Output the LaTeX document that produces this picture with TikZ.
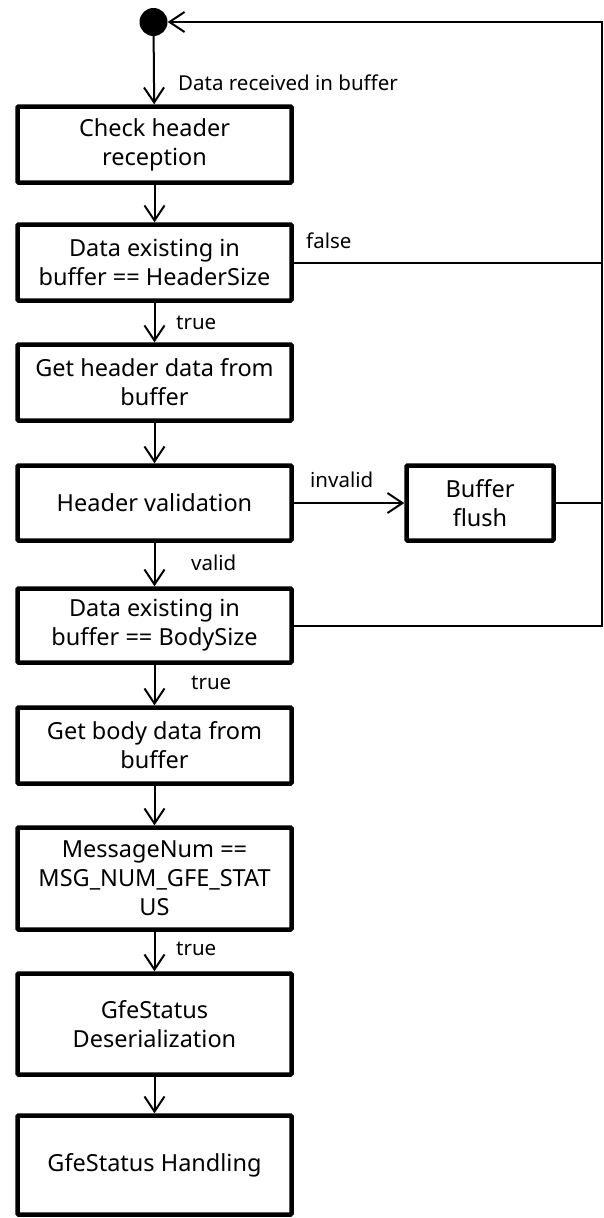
\documentclass[tikz,border=0pt]{standalone}
\usepackage{fontspec}
\setmainfont{Noto Sans}
\usetikzlibrary{arrows.meta}
\begin{document}
\begin{tikzpicture}[x=1pt,y=-1pt,
  box/.style={draw, line width=4.5pt, rectangle, rounded corners=1pt, minimum width=274pt,
    align=center, font=\fontsize{23.5}{29}\selectfont, inner sep=0pt},
  conn/.style={line width=2pt},
  arr/.style={conn, -{Straight Barb[length=15pt,width=20pt,line width=2pt]}},
  lbl/.style={font=\fontsize{20.5}{24}\selectfont, inner sep=0pt, anchor=west}]
\useasboundingbox (0,0) rectangle (603,1218);
\node[circle, fill=black, minimum size=28pt, inner sep=0pt] (start) at (153.5,22) {};
\node[box, minimum height=76pt] (b1) at (154.5,144.5) {Check header\\reception};
\node[box, minimum height=76pt] (b2) at (154.5,262.5) {Data existing in\\buffer == HeaderSize};
\node[box, minimum height=76pt] (b3) at (154.5,382.5) {Get header data from\\buffer};
\node[box, minimum height=75pt] (b4) at (154.5,503) {Header validation};
\node[box, minimum height=74pt] (b5) at (154.5,625.5) {Data existing in\\buffer == BodySize};
\node[box, minimum height=76pt] (b6) at (154.5,745.5) {Get body data from\\buffer};
\node[box, minimum height=102pt] (b7) at (154.5,878.5) {MessageNum ==\\MSG\_NUM\_GFE\_STAT\\US};
\node[box, minimum height=101pt] (b8) at (154.5,1024) {GfeStatus\\Deserialization};
\node[box, minimum height=99pt] (b9) at (154.5,1165) {GfeStatus Handling};
\node[box, minimum width=147pt, minimum height=75pt] (fl) at (480,503) {Buffer\\flush};
\coordinate (rt) at (601.5,22);
\coordinate (rb) at (601.5,625.5);
\draw[arr] (start) -- (b1);
\draw[arr] (b1) -- (b2);
\draw[arr] (b2) -- (b3);
\draw[arr] (b3) -- (b4);
\draw[arr] (b4) -- (b5);
\draw[arr] (b5) -- (b6);
\draw[arr] (b6) -- (b7);
\draw[arr] (b7) -- (b8);
\draw[arr] (b8) -- (b9);
\draw[arr] (b4) -- (fl);
\draw[arr] (b5.east) -- (rb) -- (rt) -- (start);
\draw[conn] (b2.east) -- (b2.east -| rt);
\draw[conn] (fl.east) -- (fl.east -| rt);
\node[lbl] (l0) at (178,83) {Data received in buffer};
\node[lbl] (l1) at (306,241) {false};
\node[lbl] (l2) at (176,323) {true};
\node[lbl] (l3) at (310,480) {invalid};
\node[lbl] (l4) at (191,563) {valid};
\node[lbl] (l5) at (191,683) {true};
\node[lbl] (l6) at (176,949) {true};
\end{tikzpicture}
\end{document}
